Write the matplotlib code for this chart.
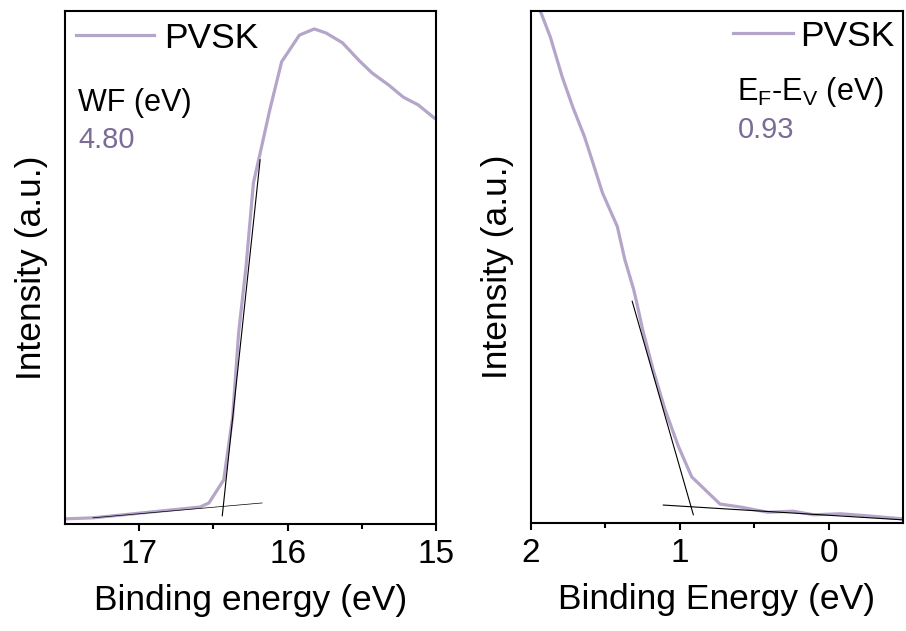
import numpy as np
import matplotlib
matplotlib.use("Agg")
import matplotlib.pyplot as plt

plt.rcParams['font.family'] = ['Liberation Sans', 'DejaVu Sans']

# secondary electron cutoff (left panel)
cutoff_energy = [17.50, 17.31, 17.00, 16.59, 16.53, 16.43, 16.37, 16.33, 16.28,
                 16.23, 16.18, 16.12, 16.04, 15.92, 15.82, 15.74, 15.63, 15.52,
                 15.43, 15.32, 15.22, 15.12, 15.01]
cutoff_int = [0.010, 0.012, 0.021, 0.033, 0.041, 0.086, 0.209, 0.372, 0.501,
              0.665, 0.729, 0.807, 0.901, 0.953, 0.965, 0.957, 0.938, 0.904,
              0.879, 0.856, 0.832, 0.817, 0.791]
cutoff_fit_E = [16.185, 16.440]
cutoff_fit_I = [0.710, 0.016]
cutoff_base_E = [17.312, 16.171]
cutoff_base_I = [0.012, 0.041]

# valence band edge (right panel)
vb_energy = [2.00, 1.94, 1.87, 1.79, 1.72, 1.64, 1.59, 1.52, 1.42, 1.37, 1.31,
             1.29, 1.25, 1.18, 1.10, 1.01, 0.92, 0.73, 0.59, 0.41, 0.24, 0.10,
             -0.08, -0.26, -0.50]
vb_int = [1.03, 1.002, 0.949, 0.871, 0.813, 0.754, 0.709, 0.645, 0.579, 0.515,
          0.456, 0.431, 0.378, 0.300, 0.222, 0.150, 0.090, 0.037, 0.031, 0.021,
          0.023, 0.016, 0.018, 0.014, 0.008]
vb_fit_E = [1.320, 0.909]
vb_fit_I = [0.433, 0.016]
vb_base_E = [1.111, -0.505]
vb_base_I = [0.035, 0.006]

sample = "PVSK"
wf_value = "4.80"
vb_value = "0.93"

line_c = '#b4a5c9'
text_c = '#7b6b97'

fig = plt.figure(figsize=(9.06, 6.31), dpi=100)
ax1 = fig.add_axes([0.0717, 0.1696, 0.4095, 0.8130])
ax2 = fig.add_axes([0.5861, 0.1712, 0.4106, 0.8114])

# --- left: work function ---
ax1.plot(cutoff_energy, cutoff_int, color=line_c, lw=2.3, label=sample)
ax1.plot(cutoff_fit_E, cutoff_fit_I, color='black', lw=0.8)
ax1.plot(cutoff_base_E, cutoff_base_I, color='black', lw=0.5)
ax1.set_xlim(17.5, 15)
ax1.set_ylim(0, 1.0)
ax1.set_xticks([17, 16, 15])
ax1.set_xticks([16.5, 15.5], minor=True)
ax1.set_xlabel("Binding energy (eV)", fontsize=25.5, labelpad=10)
ax1.legend(loc='upper left', frameon=False, fontsize=25.5, handlelength=2.2,
           handletextpad=0.3, borderaxespad=0.1, borderpad=0.2)
ax1.text(0.035, 0.806, "WF (eV)", transform=ax1.transAxes, fontsize=22)
ax1.text(0.035, 0.733, wf_value, transform=ax1.transAxes, fontsize=21, color=text_c)

# --- right: valence band ---
ax2.plot(vb_energy, vb_int, color=line_c, lw=2.3, label=sample)
ax2.plot(vb_fit_E, vb_fit_I, color='black', lw=0.8)
ax2.plot(vb_base_E, vb_base_I, color='black', lw=0.8)
ax2.set_xlim(2, -0.5)
ax2.set_ylim(0, 1.0)
ax2.set_xticks([2, 1, 0])
ax2.set_xticks([1.5, 0.5], minor=True)
ax2.set_xlabel("Binding Energy (eV)", fontsize=25.5, labelpad=10)
ax2.legend(loc='upper right', frameon=False, fontsize=25.5, handlelength=1.7,
           handletextpad=0.2, borderaxespad=0.05, borderpad=0.2)
ax2.text(0.555, 0.826, r"E$_\mathregular{F}$-E$_\mathregular{V}$ (eV)",
         transform=ax2.transAxes, fontsize=22)
ax2.text(0.555, 0.752, vb_value, transform=ax2.transAxes, fontsize=21, color=text_c)

for ax in (ax1, ax2):
    ax.set_ylabel("Intensity (a.u.)", fontsize=25.5, labelpad=12)
    ax.set_yticks([])
    for s in ax.spines.values():
        s.set_linewidth(1.5)
    ax.tick_params(axis='x', which='major', direction='out', length=5, width=1.5,
                   labelsize=24, pad=6)
    ax.tick_params(axis='x', which='minor', direction='out', length=3.5, width=1.5)

fig.savefig("out.png", dpi=100)
